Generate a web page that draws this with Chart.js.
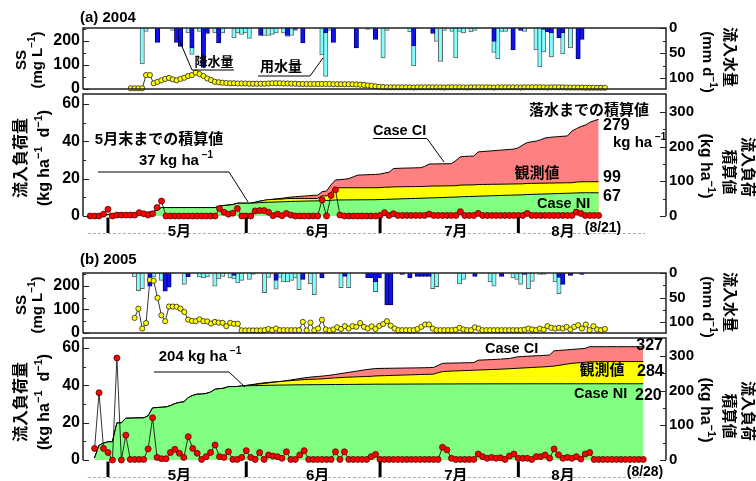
<!DOCTYPE html>
<html><head><meta charset="utf-8">
<script src="https://cdn.jsdelivr.net/npm/chart.js@4.4.1/dist/chart.umd.min.js"></script>
<style>
html,body{margin:0;padding:0;background:#fff;}
#wrap{position:relative;width:756px;height:481px;overflow:hidden;background:#fff;}
canvas{position:absolute;left:0;top:0;}
</style></head><body>
<div id="wrap">
<canvas id="c1" width="756" height="481"></canvas>
<canvas id="c2" width="756" height="481"></canvas>
<canvas id="c3" width="756" height="481"></canvas>
<canvas id="c4" width="756" height="481"></canvas>
</div>
<script>
// ---------------- DATA ----------------
// x = day number counted from May 1 (May 1 = 0)
const monthLabels = ['5月','6月','7月','8月'];
const monthStartDays = [0, 31, 61, 92];
const firstDay2004 = -4;   // Apr 27
const firstDay2005 = -3;   // Apr 28

// 2004 SS (mg/L)
const ss2004 = [3,3,3,3,58,58,24,30,36,42,
 46,40,36,42,47,54,58,68,62,54,
 44,37,30,28,26,25,24,24,23,23,
 23,22,22,22,22,22,23,24,24,24,
 23,23,22,22,21,21,21,21,21,21,
 21,21,21,20,20,20,20,20,20,19,
 18,17,15,13,11,9,8,7,7,7,
 7,7,7,7,6,7,7,7,7,7,
 7,7,6,7,7,7,7,7,6,7,
 7,7,7,7,7,6,7,7,7,7,
 7,7,6,7,7,7,7,7,7,6,
 7,7,7,7,6,6,6,6,6,5,
 5,5,5,5,5];
// 2004 rainfall (mm/d)
const rain2004 = [0,0,0,0,0,0,0,29,0,0,
 0,0,29,37,0,0,40,0,0,79,
 11,0,0,30,0,0,0,0,0,0,
 0,0,0,0,15,0,0,0,0,0,
 0,15,0,3,0,30,0,0,0,0,
 0,10,0,29,0,0,0,0,0,40,
 0,0,0,0,23,0,0,0,0,0,
 0,0,0,0,36,0,0,0,0,11,
 0,0,0,0,0,0,0,0,0,0,
 0,0,0,0,0,27,0,0,0,0,
 44,0,5,0,0,0,0,0,3,8,
 10,0,20,10,0,0,0,62,23,0,
 0,0,0,0,0];
// 2004 irrigation (mm/d)
const irr2004 = [0,0,0,72,7,0,0,0,0,0,
 0,5,0,0,0,10,13,0,7,0,
 0,0,10,0,10,0,0,20,10,13,
 10,21,0,0,0,15,15,13,10,0,
 10,2,15,2,0,0,0,0,0,0,
 54,87,5,0,0,0,0,0,0,0,
 0,0,3,0,0,0,60,5,0,0,
 0,0,0,8,40,0,0,0,0,0,
 27,67,5,0,7,60,7,10,0,8,
 5,0,0,0,0,22,62,7,7,0,
 0,0,0,7,0,0,44,78,45,0,
 48,0,0,42,0,40,0,0,0,0,
 0,0,0,0,0];
// 2004 daily inflow load (kg/ha/d)
const load2004 = [0,0,0,1,3.6,0,0.5,0.5,0.5,0.5,
 0.5,1.8,1.2,0.5,1.2,4.5,8,0,0,0,
 0,0,0,0,0,0,0,0,0,4,
 2,1,1.5,4,0,0,0,2.7,2.9,2.9,
 2,0.2,1,0.2,1.4,0.5,0,0,0,0,
 0,0,8.6,0,11,14,0.5,0,0,0,
 0,0,0,0,0,0.3,1.8,0.3,1.2,0.3,
 0.3,0.3,0.3,0.3,0.3,0.3,1,0.3,0.3,0.3,
 0.3,0.3,0.3,2.3,0.3,0.3,0.3,1.4,0.3,0.3,
 0.3,0.3,0.3,0.3,0.3,0.3,0.3,0.3,1.4,0.3,
 0.3,0.3,0.3,0.3,0.3,0.3,0.3,0.3,0.3,2.1,
 1.4,0.3,0.3,0.3,0.3];
// 2004 cumulative loads (kg/ha)
const obs2004 = [0,0,0,1,4.6,4.6,5.1,5.6,6.1,6.6,
 7.1,8.9,10.1,10.6,11.8,16.3,24.3,24.3,24.3,24.3,
 24.3,24.3,24.3,24.3,24.3,24.3,24.3,24.3,24.3,28.3,
 30.3,31.3,32.8,36.8,36.8,36.8,36.8,39.5,42.4,45.3,
 47.3,47.5,48.5,48.7,50.1,50.6,50.6,50.6,50.6,50.6,
 50.6,50.6,58,58,68,81,81.5,81.5,81.5,81.5,
 81.5,81.5,81.5,81.5,81.5,81.8,83,83.2,84,84.2,
 84.4,84.6,84.8,85,85.2,85.4,86.2,86.4,86.6,86.8,
 87,87.2,87.4,89.2,89.4,89.6,89.8,90.8,91,91.2,
 91.4,91.6,91.8,92,92.2,92.4,92.6,92.8,94,94.2,
 94.4,94.6,94.8,95,95.2,95.4,95.6,95.8,96,97.8,
 98.8,99,99,99,99];
const ni2004 = [0,0,0,1,4.6,4.6,5.1,5.6,6.1,6.6,
 7.1,8.9,10.1,10.6,11.8,16.3,24.3,24.3,24.3,24.3,
 24.3,24.3,24.3,24.3,24.3,24.3,24.3,24.3,24.3,28.3,
 30.3,31.3,32.8,36.8,36.8,36.8,36.8,37.6,38.4,39.2,
 39.8,40.2,40.6,41,41.6,42,42.3,42.6,42.9,43.2,
 43.5,43.8,44.6,44.8,45.4,46.2,46.3,46.4,46.5,46.6,
 46.7,46.8,46.9,47,47.1,47.5,48,48.3,48.8,49.2,
 49.6,50,50.4,50.8,51.2,51.6,52.2,52.6,53,53.4,
 53.8,54.2,54.6,55.4,55.8,56.2,56.6,57.2,57.6,58,
 58.4,58.8,59.2,59.6,60,60.4,60.8,61.2,62,62.4,
 62.8,63.2,63.6,64,64.4,64.8,65.2,65.6,66,66.6,
 66.9,67,67,67,67];
const ci2004 = [0,0,0,1,4.6,4.6,5.1,5.6,6.1,6.6,
 7.1,8.9,10.1,10.6,11.8,16.3,24.3,24.3,24.3,24.3,
 24.3,24.3,24.3,24.3,24.3,24.3,24.3,24.3,24.3,28.3,
 30.3,31.3,32.8,36.8,36.8,36.8,36.8,40,43,45,
 47,48.5,50,51,53,54.5,55.5,56.5,57.5,58.5,
 59.5,60,70,72,90,104,105,106,108,113,
 118,118.5,119,119.5,120,121,124,126,137,137.5,
 138,138.3,138.6,139,139.3,143,150,150.2,150.4,150.6,
 150.8,151,160,171,172,172.5,173,185,186,187,
 188,189,190,191,192,193,197,205,212,214,
 216,220,225,227,228,229,230,231,245,252,
 258,262,270,275,279];

// 2005
const ss2005 = [64,103,19,42,225,221,149,75,50,112,
 112,111,103,89,57,51,50,58,50,49,
 40,47,44,43,29,43,39,39,11,11,
 11,11,11,11,12,17,12,19,12,12,
 12,12,12,12,47,11,44,11,19,56,
 15,11,15,24,17,29,19,29,26,42,
 26,19,28,17,30,38,50,31,19,12,
 12,12,12,12,17,26,36,36,19,12,
 12,12,12,12,14,22,15,12,12,24,
 19,12,12,12,12,12,12,12,12,12,
 12,12,14,19,15,12,19,14,29,22,
 19,22,19,26,15,26,33,19,36,12,
 29,15,12,17];
const rain2005 = [0,0,0,0,27,0,0,0,37,29,
 0,0,0,0,8,0,0,0,0,0,
 0,0,0,0,0,0,5,0,0,0,
 0,0,0,0,0,0,0,15,0,0,
 0,0,0,0,13,0,0,0,0,10,
 0,0,0,0,0,7,0,0,0,0,
 0,10,10,18,10,0,65,65,0,0,
 3,0,10,0,7,7,7,7,0,0,
 0,0,0,0,0,0,0,0,0,7,
 0,0,0,0,0,0,7,0,0,0,
 0,0,3,0,0,0,0,0,0,0,
 0,9,23,0,5,0,0,3,0,0,
 0,0,0,0];
const irr2005 = [8,36,32,0,0,8,0,15,0,0,
 0,0,0,23,0,0,0,8,10,8,
 0,27,12,7,0,10,7,20,15,0,
 13,3,0,0,40,9,0,18,9,18,
 18,15,10,34,0,0,22,44,0,0,
 0,0,0,0,30,0,30,0,0,0,
 0,0,0,20,0,0,0,0,0,0,
 0,0,0,0,0,0,0,0,32,28,
 0,0,0,0,0,22,13,0,0,0,
 0,0,0,18,27,0,0,0,0,10,
 13,23,0,32,17,0,3,3,0,0,
 18,33,0,0,0,0,0,0,0,0,
 0,0,0,0];
const load2005 = [6.2,36,6.2,4,0,54.6,0,13.3,0.3,0.3,
 0.3,0.3,5.9,22.6,1.4,0.7,0.7,4,5.7,3.6,
 1.4,12.5,6.2,3.6,0.3,1.8,4,8,1.8,1.4,
 4.4,0.3,0.3,1.4,5,1.4,0.3,4,0.3,2.7,
 2.1,1.8,0.9,4.4,0.3,0.3,2.7,5,0.3,0.3,
 0.3,0.3,0.3,0.3,4.4,0.3,4.4,0.3,0.3,0.3,
 0.3,0.3,1.8,3,0.3,0.3,0.3,0.3,0.3,0.3,
 0.3,0.3,0.3,0.3,0.3,0.3,0.3,0.3,6.8,5.4,
 0.9,0.3,0.3,0.3,0.3,0.3,3.2,1.8,0.9,1.4,
 0.9,1.2,0.3,2.1,3.2,0.9,0.9,0.9,0.3,1.8,
 1.8,2.7,0.9,5.9,2.8,0.9,1.4,0.9,1.8,0.5,
 3.2,4,0.3,0.3,0.3,0.3,0.3,0.3,0.3,0.3,
 0.3,0.3,0.3,0.3];
const obs2005 = [6.2,42.2,48.4,52.4,52.4,107,107,120.3,120.6,120.9,
 121.2,121.5,127.4,150,151.4,152.1,152.8,156.8,162.5,166.1,
 167.5,180,186.2,189.8,190.1,191.9,195.9,203.9,205.7,207.1,
 211.5,211.8,212.1,213.5,215,216.5,218,219.5,221,222.5,
 224,225.5,227,228,229,230,231,232,232.5,233,
 233.5,234,235,236,237,237.5,238.5,239,239.5,240,
 240.5,241,241.5,242.5,243,243.4,243.8,244.2,244.6,245,
 245.4,245.8,246.2,246.6,247,247.4,247.8,252,255,256,
 256.5,257,257.5,258,258.5,259,259.5,260,260.5,261,
 261.5,262,262.7,263.4,264.1,264.8,265.5,266.2,266.9,267.6,
 268.3,269,270,271,273,275,277,279,280,281,
 282,283,283.3,283.6,283.8,284,284,284,284,284,
 284,284,284,284];
const ni2005 = [6.2,42.2,48.4,52.4,52.4,107,107,120.3,120.6,120.9,
 121.2,121.5,127.4,150,151.4,152.1,152.8,156.8,162.5,166.1,
 167.5,180,186.2,189.8,190.1,191.9,195.9,203.9,205.7,207.1,
 211.5,211.8,212.1,213.5,214,214.3,214.6,214.9,215.2,215.5,
 215.8,216,216.2,216.4,216.6,216.8,217,217.1,217.2,217.3,
 217.4,217.5,217.6,217.7,217.8,217.9,218,218.1,218.2,218.3,
 218.4,218.5,218.6,218.7,218.8,218.8,218.9,218.9,219,219,
 219.1,219.1,219.2,219.2,219.3,219.3,219.4,219.4,219.5,219.5,
 219.5,219.6,219.6,219.6,219.7,219.7,219.7,219.7,219.8,219.8,
 219.8,219.8,219.8,219.9,219.9,219.9,219.9,219.9,220,220,
 220,220,220,220,220,220,220,220,220,220,
 220,220,220,220,220,220,220,220,220,220,
 220,220,220,220];
const ci2005 = [6.2,42.2,48.4,52.4,52.4,107,107,120.3,120.6,120.9,
 121.2,121.5,127.4,150,151.4,152.1,152.8,156.8,162.5,166.1,
 167.5,180,186.2,189.8,190.1,191.9,195.9,203.9,205.7,207.1,
 211.5,211.8,212.1,213.5,215,217,219,221,222.5,224,
 225,226,227,229,231,233,235,237,238.5,240,
 241,242,243.5,245,247,249,251,253,255,257,
 259,261,262.5,264,264.2,264.4,264.6,264.8,265,265.2,
 265.4,265.6,265.8,266,266.3,266.6,267,273,279,279.3,
 279.6,279.9,280.2,280.5,280.8,281,288,288.6,289.2,289.8,
 290.4,291,292,293,295.5,298,298.7,299.4,300,300.6,
 301.2,302,303,315,316,317,318,319,320,321,
 322,327,327,327,327,327,327,327,327,327,
 327,327,327,327];

// ---------------- RENDERING ----------------
const FAM = "'Liberation Sans','Noto Sans CJK JP',sans-serif";
Chart.defaults.font.family = FAM;
Chart.defaults.font.weight = 'bold';
Chart.defaults.color = '#000';
const fnt = s => `bold ${s}px ${FAM}`;
const pts = (arr, first) => arr.map((v, i) => ({x: first + i, y: v}));

function richParts(str){
  const parts=[]; const re=/\{([^}]*)\}/g; let last=0, m;
  while((m=re.exec(str))){ if(m.index>last) parts.push({t:str.slice(last,m.index),sup:false}); parts.push({t:m[1],sup:true}); last=re.lastIndex; }
  if(last<str.length) parts.push({t:str.slice(last),sup:false});
  return parts;
}
function drawText(ctx, str, x, y, o){
  const size=o.size||15, align=o.align||'left', rot=(o.rot||0)*Math.PI/180;
  const parts=richParts(str);
  ctx.save();
  ctx.translate(x,y); ctx.rotate(rot);
  ctx.fillStyle=o.color||'#000';
  ctx.textBaseline='middle'; ctx.textAlign='left';
  const ss=Math.round(size*0.68);
  let w=0; const ws=[];
  for(const p of parts){ ctx.font=fnt(p.sup?ss:size); const pw=ctx.measureText(p.t).width; ws.push(pw); w+=pw; }
  let cx = align==='left'?0:(align==='center'?-w/2:-w);
  parts.forEach((p,i)=>{ ctx.font=fnt(p.sup?ss:size); ctx.fillText(p.t,cx,p.sup?-size*0.38:0); cx+=ws[i]; });
  ctx.restore();
}

const annoPlugin = {
  id:'anno',
  afterDraw(chart, args, o){
    const ctx = chart.ctx;
    (o.lines||[]).forEach(l=>{
      ctx.save(); ctx.strokeStyle='#000'; ctx.lineWidth=1; ctx.beginPath();
      l.forEach((p,i)=> i?ctx.lineTo(p[0],p[1]):ctx.moveTo(p[0],p[1])); ctx.stroke(); ctx.restore();
    });
    (o.texts||[]).forEach(t=>drawText(ctx,t.s,t.x,t.y,t));
  }
};

const framePlugin = {
  id:'frame',
  afterDatasetsDraw(chart, args, o){
    const {ctx, chartArea:a, scales} = chart;
    ctx.save();
    ctx.strokeStyle='#222'; ctx.lineWidth=1.5;
    ctx.beginPath();
    ctx.moveTo(a.left,a.bottom); ctx.lineTo(a.left,a.top); ctx.lineTo(a.right,a.top); ctx.lineTo(a.right,a.bottom);
    if(o.bottom) ctx.lineTo(a.left,a.bottom);
    ctx.stroke();
    ctx.lineWidth=1;
    const tk=(sc,vals,len,side)=>vals.forEach(v=>{
      const y=Math.round(sc.getPixelForValue(v))+0.5; ctx.beginPath();
      if(side==='l'){ctx.moveTo(a.left,y);ctx.lineTo(a.left+len,y);} else {ctx.moveTo(a.right,y);ctx.lineTo(a.right-len,y);}
      ctx.stroke();
    });
    tk(scales.yL,o.lMajor,6,'l'); tk(scales.yL,o.lMinor,3,'l');
    tk(scales.yR,o.rMajor,6,'r'); tk(scales.yR,o.rMinor,3,'r');
    if(o.months){
      const x=scales.x, yb=a.bottom;
      ctx.strokeStyle='#aaa'; ctx.lineWidth=1; ctx.setLineDash([3,2]);
      ctx.beginPath(); ctx.moveTo(x.getPixelForValue(-4.5),yb+17.5); ctx.lineTo(x.getPixelForValue(120.4),yb+17.5); ctx.stroke();
      ctx.setLineDash([]);
      ctx.strokeStyle='#000'; ctx.lineWidth=3;
      monthStartDays.forEach(d=>{ const px=x.getPixelForValue(d); ctx.beginPath(); ctx.moveTo(px,yb+1.5); ctx.lineTo(px,yb+17); ctx.stroke(); });
      monthLabels.forEach((m,i)=>drawText(ctx,m,x.getPixelForValue(o.months.labelDays[i]),yb+16,{size:15,align:'center'}));
    }
    ctx.restore();
  }
};

function yAxis(pos,min,max,ticks,size,reverse,stacked){
  return { position:pos, min, max, reverse:!!reverse, stacked:!!stacked,
    grid:{display:false, drawTicks:false}, border:{display:false},
    ticks:{font:{family:FAM,size,weight:'bold'}, color:'#000', padding:3},
    afterBuildTicks:s=>{ s.ticks = ticks.map(v=>({value:v})); },
    afterFit:s=>{ s.width = 40; } };
}
const xAxis = st => ({ type:'linear', min:-5.6, max:125.1, display:false, stacked:!!st });

function baseOpts(pad, scales, frame, anno){
  return { responsive:false, maintainAspectRatio:false, animation:false, devicePixelRatio:1, events:[],
    layout:{padding:pad}, scales,
    plugins:{legend:{display:false}, tooltip:{enabled:false}, frame, anno} };
}

function topChart(id, first, ss, rain, irr, top, bottom, anno){
  const bar = (lbl, d, bg, bc, ord) => ({ type:'bar', label:lbl, data:pts(d,first), yAxisID:'yR', stack:'w',
    backgroundColor:bg, borderColor:bc, borderWidth:1, barThickness:4.4, order:ord });
  return new Chart(document.getElementById(id), {
    type:'bar',
    data:{ datasets:[
      { type:'line', label:'SS', data:pts(ss,first), yAxisID:'yL', borderColor:'#000', borderWidth:0.8,
        pointRadius:2.6, pointBackgroundColor:'#ffff00', pointBorderColor:'#222', pointBorderWidth:0.8, tension:0, clip:false, order:0 },
      bar('降水量', rain, '#1010f0', '#000070', 2),
      bar('用水量', irr, '#80ffff', '#606060', 3)
    ]},
    plugins:[framePlugin, annoPlugin],
    options: baseOpts({left:43,right:50,top:top,bottom:481-bottom},
      { x:xAxis(true), yL:yAxis('left',0,254,[0,100,200],16), yR:yAxis('right',0,122,[0,50,100],15,true,true) },
      { bottom:true, lMajor:[0,100,200], lMinor:[50,150,250], rMajor:[0,50,100], rMinor:[25,75], months:null },
      anno)
  });
}

function loadChart(id, first, load, ni, obs, ci, top, bottom, anno){
  const area = (lbl, d, col, ord) => ({ type:'line', label:lbl, data:pts(d,first), yAxisID:'yR', borderColor:'#000', borderWidth:1,
    backgroundColor:col, fill:'origin', pointRadius:0, tension:0, order:ord });
  return new Chart(document.getElementById(id), {
    type:'line',
    data:{ datasets:[
      { type:'line', label:'流入負荷量', data:pts(load,first), yAxisID:'yL', borderColor:'#000', borderWidth:0.8,
        pointRadius:3, pointBackgroundColor:'#ff0000', pointBorderColor:'#500', pointBorderWidth:0.8, tension:0, clip:false, order:0 },
      area('Case NI', ni, '#80ff80', 1),
      area('観測値', obs, '#ffff00', 2),
      area('Case CI', ci, '#ff8080', 3)
    ]},
    plugins:[framePlugin, annoPlugin],
    options: baseOpts({left:43,right:50,top:top,bottom:481-bottom},
      { x:xAxis(false), yL:yAxis('left',0,65.3,[0,20,40,60],16), yR:yAxis('right',0,352,[0,100,200,300],15) },
      { bottom:false, lMajor:[0,20,40,60], lMinor:[10,30,50], rMajor:[0,100,200,300], rMinor:[50,150,250],
        months:{labelDays:[16,47,78,102]} },
      anno)
  });
}

// 2004 top
topChart('c1', firstDay2004, ss2004, rain2004, irr2004, 28, 89, {
  texts:[
    {s:'(a) 2004', x:80, y:18, size:15},
    {s:'降水量', x:214, y:62, size:13, align:'center'},
    {s:'用水量', x:281, y:67, size:14, align:'center'},
    {s:'SS', x:22, y:60, size:15, rot:-90, align:'center'},
    {s:'(mg L{−1})', x:38, y:60, size:15, rot:-90, align:'center'},
    {s:'流入水量', x:729, y:57, size:15, rot:90, align:'center'},
    {s:'(mm d{−1})', x:707, y:62, size:15, rot:90, align:'center'}
  ],
  lines:[ [[178,37],[192,70],[234,70]], [[258,76],[310,76],[323,58]] ]
});
// 2004 bottom
loadChart('c2', firstDay2004, load2004, ni2004, obs2004, ci2004, 94, 216, {
  texts:[
    {s:'5月末までの積算値', x:159, y:140, size:15, align:'center'},
    {s:'37 kg ha{ −1}', x:176, y:161, size:15, align:'center'},
    {s:'落水までの積算値', x:589, y:111, size:15, align:'center'},
    {s:'279', x:603, y:126, size:16},
    {s:'kg ha{ −1}', x:613, y:143, size:15},
    {s:'Case CI', x:373, y:131, size:14.5},
    {s:'観測値', x:537, y:174, size:15, align:'center'},
    {s:'99', x:603, y:178, size:16},
    {s:'67', x:603, y:197, size:16},
    {s:'Case NI', x:537, y:204, size:14.5},
    {s:'(8/21)', x:603, y:228, size:14, align:'center'},
    {s:'流入負荷量', x:22, y:158, size:16, rot:-90, align:'center'},
    {s:'(kg ha{−1}  d{−1})', x:45, y:158, size:16, rot:-90, align:'center'},
    {s:'流入負荷', x:747, y:167, size:15, rot:90, align:'center'},
    {s:'積算値', x:728, y:172, size:15, rot:90, align:'center'},
    {s:'(kg ha{−1})', x:705, y:166, size:16, rot:90, align:'center'}
  ],
  lines:[ [[98,172],[229,172],[248,202]], [[373,138.5],[427,138.5],[444,162]] ]
});
// 2005 top
topChart('c3', firstDay2005, ss2005, rain2005, irr2005, 273, 333, {
  texts:[
    {s:'(b) 2005', x:80, y:260, size:15},
    {s:'SS', x:22, y:305, size:15, rot:-90, align:'center'},
    {s:'(mg L{−1})', x:38, y:305, size:15, rot:-90, align:'center'},
    {s:'流入水量', x:729, y:302, size:15, rot:90, align:'center'},
    {s:'(mm d{−1})', x:707, y:307, size:15, rot:90, align:'center'}
  ]
});
// 2005 bottom
loadChart('c4', firstDay2005, load2005, ni2005, obs2005, ci2005, 338, 460, {
  texts:[
    {s:'204 kg ha{ −1}', x:200, y:357, size:15, align:'center'},
    {s:'Case CI', x:485, y:349, size:14.5},
    {s:'327', x:663, y:346, size:16, align:'right'},
    {s:'観測値', x:602, y:371, size:15, align:'center'},
    {s:'284', x:637, y:372, size:16},
    {s:'Case NI', x:574, y:394, size:14.5},
    {s:'220', x:635, y:396, size:16},
    {s:'(8/28)', x:645, y:472, size:14, align:'center'},
    {s:'流入負荷量', x:22, y:402, size:16, rot:-90, align:'center'},
    {s:'(kg ha{−1}  d{−1})', x:45, y:402, size:16, rot:-90, align:'center'},
    {s:'流入負荷', x:747, y:411, size:15, rot:90, align:'center'},
    {s:'積算値', x:728, y:416, size:15, rot:90, align:'center'},
    {s:'(kg ha{−1})', x:705, y:410, size:16, rot:90, align:'center'}
  ],
  lines:[ [[154,372],[229,372],[245,387]] ]
});
</script>
</body></html>
